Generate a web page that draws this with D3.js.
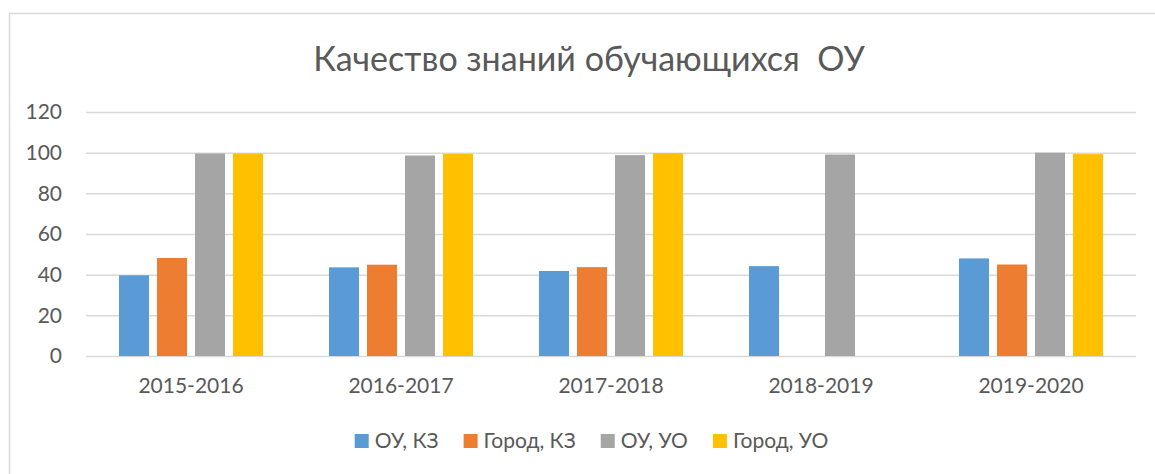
<!DOCTYPE html>
<html>
<head>
<meta charset="utf-8">
<script src="https://cdn.jsdelivr.net/npm/d3@7"></script>
<style>
  body { margin: 0; background: #fff; }
  text { font-family: Lato, "Noto Sans", sans-serif; fill: #595959; }
</style>
</head>
<body>
<div id="container"></div>
<script>
/* DATA */
const years = ['2015-2016', '2016-2017', '2017-2018', '2018-2019', '2019-2020'];
const seriesNames = ['ОУ, КЗ', 'Город, КЗ', 'ОУ, УО', 'Город, УО'];
const ouKZ    = [39.7, 43.6, 41.8, 44.2, 48];
const gorodKZ = [48.2, 44.9, 43.7, null, 45];
const ouUO    = [99.6, 98.6, 98.8, 99.1, 100];
const gorodUO = [99.6, 99.4, 99.8, null, 99.3];
const yTicks = [0, 20, 40, 60, 80, 100, 120];
const colors = ['#5b9bd5', '#ed7d31', '#a5a5a5', '#ffc000'];

const allSeries = [ouKZ, gorodKZ, ouUO, gorodUO];

/* CONSTANTS */
const W = 1155, H = 474;
const margin = { top: 112, right: 19, bottom: 118, left: 86 };
const width = W - margin.left - margin.right;
const height = H - margin.top - margin.bottom;

const svg = d3.select('#container')
  .append('svg')
  .attr('width', W)
  .attr('height', H);

// chart border (cut off on the right and bottom in the original)
svg.append('rect')
  .attr('x', 9.5).attr('y', 13.5)
  .attr('width', 1300).attr('height', 600)
  .attr('fill', '#fff')
  .attr('stroke', '#d9d9d9')
  .attr('stroke-width', 1.5);

// title
svg.append('text')
  .attr('x', 589)
  .attr('y', 71)
  .attr('text-anchor', 'middle')
  .attr('font-size', '34px')
  .attr('xml:space', 'preserve')
  .text('Качество знаний обучающихся  ОУ');

const chart = svg.append('g')
  .attr('transform', `translate(${margin.left}, ${margin.top})`);

// scales
const x0 = d3.scaleBand()
  .domain(years)
  .range([0, width])
  .paddingInner(0.314)
  .paddingOuter(0.157);

const x1 = d3.scaleBand()
  .domain(d3.range(seriesNames.length))
  .range([0, x0.bandwidth()])
  .paddingInner(8 / 38)
  .paddingOuter(0);

const y = d3.scaleLinear()
  .domain([0, 120])
  .range([height, 0]);

// gridlines
chart.append('g')
  .call(d3.axisLeft(y).tickValues(yTicks).tickSize(-width).tickFormat(''))
  .call(g => g.select('.domain').remove())
  .call(g => g.selectAll('line').attr('stroke', '#d9d9d9').attr('stroke-width', 1.5));

// y axis labels
chart.append('g')
  .call(d3.axisLeft(y).tickValues(yTicks).tickSize(0).tickPadding(24))
  .call(g => g.select('.domain').remove())
  .call(g => g.selectAll('text').attr('font-size', '21px').attr('fill', '#595959')
    .style('font-family', 'Lato, sans-serif'));

// bars
const flat = [];
years.forEach((yr, i) => {
  allSeries.forEach((s, j) => {
    if (s[i] != null) flat.push({ year: yr, series: j, value: s[i] });
  });
});

chart.selectAll('rect.bar')
  .data(flat)
  .join('rect')
  .attr('class', 'bar')
  .attr('x', d => x0(d.year) + x1(d.series))
  .attr('width', x1.bandwidth())
  .attr('y', d => y(d.value))
  .attr('height', d => y(0) - y(d.value))
  .attr('fill', d => colors[d.series]);

// x axis labels
chart.append('g')
  .attr('transform', `translate(0, ${height})`)
  .call(d3.axisBottom(x0).tickSize(0).tickPadding(22))
  .call(g => g.select('.domain').remove())
  .call(g => g.selectAll('text').attr('font-size', '21px').attr('fill', '#595959')
    .style('font-family', 'Lato, sans-serif'));

// legend
const legend = svg.append('g');
const items = legend.selectAll('g.item')
  .data(seriesNames)
  .join('g')
  .attr('class', 'item');

items.append('rect')
  .attr('width', 14).attr('height', 14)
  .attr('y', -14)
  .attr('fill', (d, i) => colors[i]);

items.append('text')
  .attr('x', 20)
  .attr('y', 0)
  .attr('font-size', '21px')
  .text(d => d);

let xpos = 0;
items.each(function () {
  const w = this.getBBox().width;
  d3.select(this).attr('transform', `translate(${xpos}, 448)`);
  xpos += w + 25;
});
const total = xpos - 25;
legend.attr('transform', `translate(${591.5 - total / 2}, 0)`);
</script>
</body>
</html>
